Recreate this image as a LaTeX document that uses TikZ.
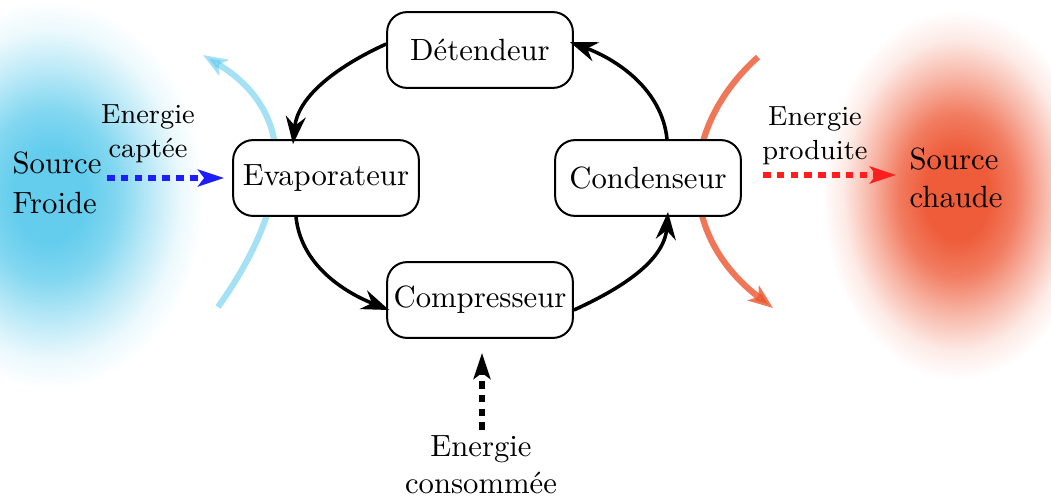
\documentclass[tikz,border=0pt]{standalone}
\usetikzlibrary{arrows.meta,calc}
\definecolor{bcore}{RGB}{100,205,237}
\definecolor{rcore}{RGB}{238,92,58}
\definecolor{bline}{RGB}{90,200,235}
\definecolor{rline}{RGB}{235,85,45}
\definecolor{dblue}{RGB}{30,30,250}
\definecolor{dred}{RGB}{255,30,30}
\pgfdeclareradialshading{glowb}{\pgfpoint{0bp}{0bp}}{color(0bp)=(bcore); color(6bp)=(bcore); color(11bp)=(bcore!80!white); color(16bp)=(bcore!45!white); color(21bp)=(bcore!13!white); color(25bp)=(white); color(50bp)=(white)}
\pgfdeclareradialshading{glowr}{\pgfpoint{0bp}{0bp}}{color(0bp)=(rcore); color(6bp)=(rcore); color(11bp)=(rcore!80!white); color(16bp)=(rcore!45!white); color(21bp)=(rcore!13!white); color(25bp)=(white); color(50bp)=(white)}
\begin{document}
\begin{tikzpicture}[x=0.3257pt,y=-0.3257pt,
  stage/.style={draw, line width=0.65pt, rounded corners=6.5pt, fill=white,
    minimum width=60.5pt, minimum height=24.7pt, inner sep=0pt},
  cycle/.style={line width=1.15pt, -{Stealth[length=9pt,width=6.5pt,inset=3pt]}},
  flow/.style={line width=2.2pt, dash pattern=on 2.5pt off 2pt,
    -{Stealth[length=8.5pt,width=5.5pt,inset=2pt]}},
  heat/.style={line width=2pt, -{Stealth[length=8pt,width=6pt,inset=2pt]}},
  lbl/.style={align=center, inner sep=0pt, font=\small},
  txt/.style={align=center, inner sep=0pt}]
\useasboundingbox (0,0) rectangle (1051,497);
% sources
\shade[shading=glowb] (50,195) ellipse [x radius=155, y radius=195];
\shade[shading=glowr] (957,195) ellipse [x radius=135, y radius=185];
% heat arcs
\draw[heat, bline, opacity=0.55] (218,307) .. controls (280,220) and (310,120) .. (203,55);
\draw[heat, rline, opacity=0.8] (758,57) .. controls (677,130) and (677,235) .. (773,308);
% stages
\node[stage] (det) at (480,50) {Détendeur};
\node[stage] (evap) at (326,178) {Evaporateur};
\node[stage] (cond) at (648,178) {Condenseur};
\node[stage] (comp) at (480,300) {Compresseur};
% cycle
\draw[cycle] ($(det.west)+(0,-6)$) .. controls (340,65) and (298,95) .. ($(evap.north)+(-33,5)$);
\draw[cycle] ($(evap.south)+(-30,0)$) .. controls (301,265) and (344,292) .. ($(comp.west)+(3,10)$);
\draw[cycle] ($(comp.east)+(0,10)$) .. controls (618,290) and (664,262) .. ($(cond.south)+(20,-5)$);
\draw[cycle] ($(cond.north)+(19,0)$) .. controls (662,90) and (618,60) .. ($(det.east)+(-4,-8)$);
% labels
\node[txt, align=left, anchor=west] (sf) at (12,183) {Source\\[1pt]Froide};
\node[txt, align=left, anchor=west] (sc) at (909,178) {Source\\[0.4pt]chaude};
\node[lbl] (capt) at (148,134) {Energie\\captée};
\node[lbl] (prod) at (815,136) {Energie\\produite};
\node[txt] (cons) at (481,465) {Energie\\consommée};
% energy flows
\coordinate (bs) at (107,178);
\coordinate (rs) at (896,175);
\coordinate (ks) at (482,430);
\draw[flow, dblue] (bs) -- ($(evap.west)+(-8,0)$);
\draw[flow, dred] ($(cond.east)+(21,-3)$) -- (rs);
\draw[flow] (ks) -- ($(comp.south)+(2,14)$);
\end{tikzpicture}
\end{document}
